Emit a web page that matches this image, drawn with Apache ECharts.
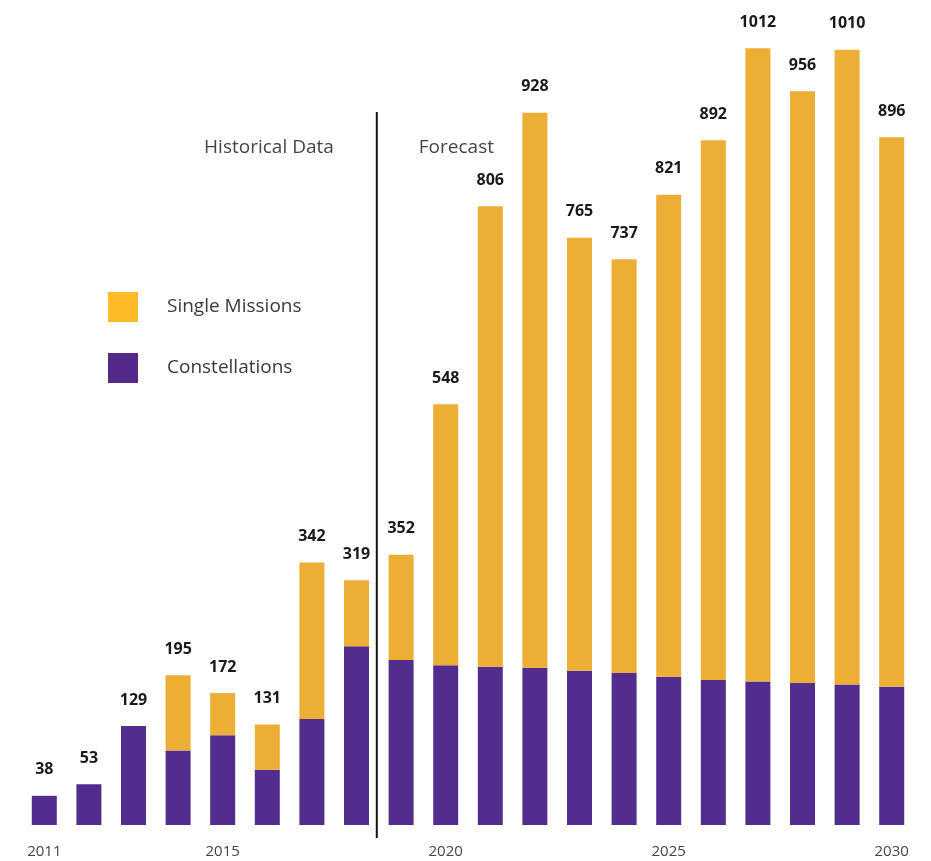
<!DOCTYPE html>
<html>
<head>
<meta charset="utf-8">
<script src="https://cdn.jsdelivr.net/npm/echarts@6/dist/echarts.min.js"></script>
<style>
html,body{margin:0;padding:0;background:#fff;}
#main{width:931px;height:861px;}
</style>
</head>
<body>
<div id="main"></div>
<script>
const years = ['2011','2012','2013','2014','2015','2016','2017','2018','2019','2020','2021','2022','2023','2024','2025','2026','2027','2028','2029','2030'];
const constellations = [38,53,129,97,117,72,138,233,215,208,206,205,201,198,193,189,187,185,183,180];
const singleMissions = [0,0,0,98,55,59,204,86,137,340,600,723,564,539,628,703,825,771,827,716];
const totals = [38,53,129,195,172,131,342,319,352,548,806,928,765,737,821,892,1012,956,1010,896];
const shownYearLabels = ['2011','2015','2020','2025','2030'];

const FONT = '"Open Sans", "Noto Sans", sans-serif';
const chart = echarts.init(document.getElementById('main'));
chart.setOption({
  animation: false,
  backgroundColor: '#ffffff',
  grid: { left: 22, right: 17, top: 19, bottom: 36, containLabel: false },
  legend: {
    orient: 'vertical',
    left: 108,
    top: 292,
    padding: 0,
    itemWidth: 30,
    itemHeight: 30,
    itemGap: 31,
    icon: 'rect',
    selectedMode: false,
    data: [
      { name: 'Single Missions', itemStyle: { color: '#FDBB2A' } },
      { name: 'Constellations', itemStyle: { color: '#55298A' } }
    ],
    textStyle: { fontFamily: FONT, fontSize: 19, color: '#3a3a3a', padding: [0, 0, 0, 24] }
  },
  xAxis: {
    type: 'category',
    data: years,
    axisLine: { show: false },
    axisTick: { show: false },
    axisLabel: {
      interval: 0,
      formatter: v => shownYearLabels.includes(v) ? v : '',
      fontFamily: FONT,
      fontSize: 15,
      color: '#444',
      margin: 19
    }
  },
  yAxis: {
    type: 'value',
    min: 0,
    max: 1050,
    show: false,
    splitLine: { show: false }
  },
  series: [
    {
      name: 'Constellations',
      type: 'bar',
      stack: 'total',
      barWidth: 25,
      data: constellations,
      itemStyle: { color: '#532D8D' }
    },
    {
      name: 'Single Missions',
      type: 'bar',
      stack: 'total',
      barWidth: 25,
      data: singleMissions,
      itemStyle: { color: '#ECAE35' },
      label: {
        show: true,
        position: 'top',
        distance: 18,
        formatter: p => String(totals[p.dataIndex]),
        fontFamily: FONT,
        fontWeight: 'bold',
        fontSize: 16,
        color: '#1a1a1a'
      }
    }
  ]
});

function drawAnnotations() {
  const x1 = chart.convertToPixel({ xAxisIndex: 0 }, 7);
  const x2 = chart.convertToPixel({ xAxisIndex: 0 }, 8);
  const xm = (x1 + x2) / 2 - 2;
  chart.setOption({
    graphic: [
      { type: 'line', shape: { x1: xm, y1: 112, x2: xm, y2: 838 }, style: { stroke: '#111', lineWidth: 2 } },
      { type: 'text', x: xm - 43, y: 148, style: { text: 'Historical Data', font: '19px ' + FONT, fill: '#444', textAlign: 'right', textVerticalAlign: 'middle' } },
      { type: 'text', x: xm + 42, y: 148, style: { text: 'Forecast', font: '19px ' + FONT, fill: '#444', textAlign: 'left', textVerticalAlign: 'middle' } }
    ]
  });
}
drawAnnotations();
</script>
</body>
</html>
